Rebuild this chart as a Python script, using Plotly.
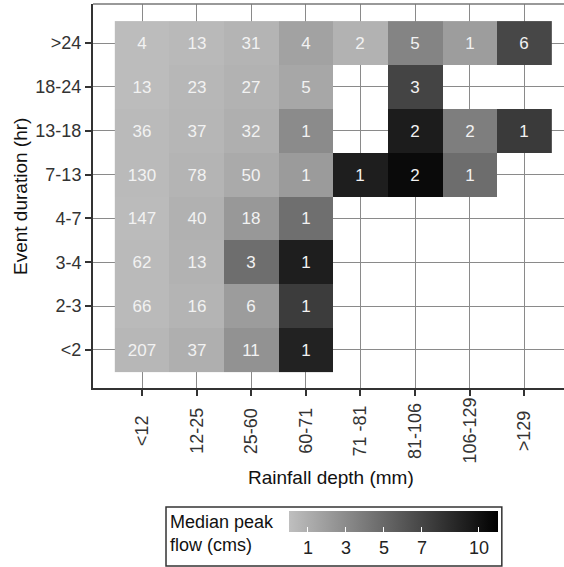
import plotly.graph_objects as go

rain_labels = ["<12", "12-25", "25-60", "60-71", "71 -81", "81-106", "106-129", ">129"]
dur_labels = ["<2", "2-3", "3-4", "4-7", "7-13", "13-18", "18-24", ">24"]

# event counts (rows: duration bottom->top, cols: rainfall depth)
counts = [
    [207, 37, 11, 1, None, None, None, None],
    [66, 16, 6, 1, None, None, None, None],
    [62, 13, 3, 1, None, None, None, None],
    [147, 40, 18, 1, None, None, None, None],
    [130, 78, 50, 1, 1, 2, 1, None],
    [36, 37, 32, 1, None, 2, 2, 1],
    [13, 23, 27, 5, None, 3, None, None],
    [4, 13, 31, 4, 2, 5, 1, 6],
]

# median peak flow (cms), estimated from shading
median_flow = [
    [0.46, 0.92, 2.58, 9.05, None, None, None, None],
    [0.29, 0.63, 2.00, 7.56, None, None, None, None],
    [0.29, 0.74, 4.64, 9.28, None, None, None, None],
    [0.23, 0.80, 2.23, 4.58, None, None, None, None],
    [0.29, 0.63, 1.20, 2.06, 9.28, 10.4, 4.70, None],
    [0.29, 0.52, 0.92, 2.98, None, 9.40, 3.72, 7.68],
    [0.17, 0.46, 0.74, 1.37, None, 7.10, None, None],
    [0.17, 0.34, 0.63, 1.66, 0.74, 3.38, 1.95, 6.93],
]

cbar_ticks = [1, 3, 5, 7, 10]

FONT = "Liberation Sans, Arial, sans-serif"

text = [["" if c is None else str(c) for c in row] for row in counts]

fig = go.Figure()
fig.add_trace(go.Heatmap(
    x=rain_labels, y=dur_labels, z=median_flow,
    text=text, texttemplate="%{text}",
    textfont=dict(size=17, color="#f2f2f2", family=FONT),
    colorscale=[[0, "#bfbfbf"], [1, "#000000"]],
    zmin=0, zmax=11,
    hoverongaps=False,
    colorbar=dict(
        orientation="h", thickness=21, thicknessmode="pixels",
        len=209, lenmode="pixels",
        x=0.638, y=-0.3203, xanchor="center", yanchor="top",
        xpad=0, ypad=0,
        tickvals=cbar_ticks, ticktext=[str(t) for t in cbar_ticks],
        ticks="inside", ticklen=5, tickcolor="white", tickwidth=1,
        tickfont=dict(size=18, color="#222", family=FONT),
        outlinewidth=0,
    ),
))

# rotated, centered x tick labels
for lab in rain_labels:
    fig.add_annotation(x=lab, y=-0.112, xref="x", yref="paper",
                       text=lab, textangle=-90, showarrow=False,
                       xanchor="center", yanchor="middle",
                       font=dict(size=18, color="#333", family=FONT))

fig.add_annotation(x=0.505, xref="paper", y=-0.232, yref="paper",
                   text="Rainfall depth (mm)", showarrow=False,
                   xanchor="center", yanchor="middle",
                   font=dict(size=19, color="#111", family=FONT))
fig.add_annotation(x=-0.155, xref="paper", y=0.5, yref="paper",
                   text="Event duration (hr)", showarrow=False, textangle=-90,
                   xanchor="center", yanchor="middle",
                   font=dict(size=19, color="#111", family=FONT))

# legend title + box
fig.add_annotation(x=0.159, xref="paper", y=-0.3786, yref="paper",
                   text="Median peak<br>flow (cms)", showarrow=False,
                   xanchor="left", yanchor="middle", align="left",
                   font=dict(size=18, color="#111", family=FONT))
fig.add_shape(type="rect", xref="paper", yref="paper",
              x0=0.155, x1=0.868, y0=-0.4635, y1=-0.31,
              line=dict(color="#333", width=1.5))
# top panel border
fig.add_shape(type="line", xref="paper", yref="paper",
              x0=0, x1=1, y0=1, y1=1, line=dict(color="#777", width=1.5))

fig.update_xaxes(range=[-0.9, 7.73], showticklabels=False,
                 ticks="outside", ticklen=6, tickcolor="#333", tickwidth=1.5,
                 showgrid=True, gridcolor="#8a8a8a", gridwidth=1,
                 showline=True, linecolor="#333", linewidth=2, zeroline=False)
fig.update_yaxes(range=[-0.87, 7.89],
                 ticks="outside", ticklen=6, tickcolor="#333", tickwidth=1.5,
                 tickfont=dict(size=18, color="#333", family=FONT),
                 showgrid=True, gridcolor="#8a8a8a", gridwidth=1,
                 showline=True, linecolor="#333", linewidth=2, zeroline=False)

fig.update_layout(
    width=564, height=567,
    margin=dict(l=93, r=0, t=4, b=179, autoexpand=False),
    plot_bgcolor="white", paper_bgcolor="white",
    font=dict(family=FONT),
)

fig.write_html("out.html", config={"displayModeBar": False},
               post_script="document.body.style.margin='0';")
